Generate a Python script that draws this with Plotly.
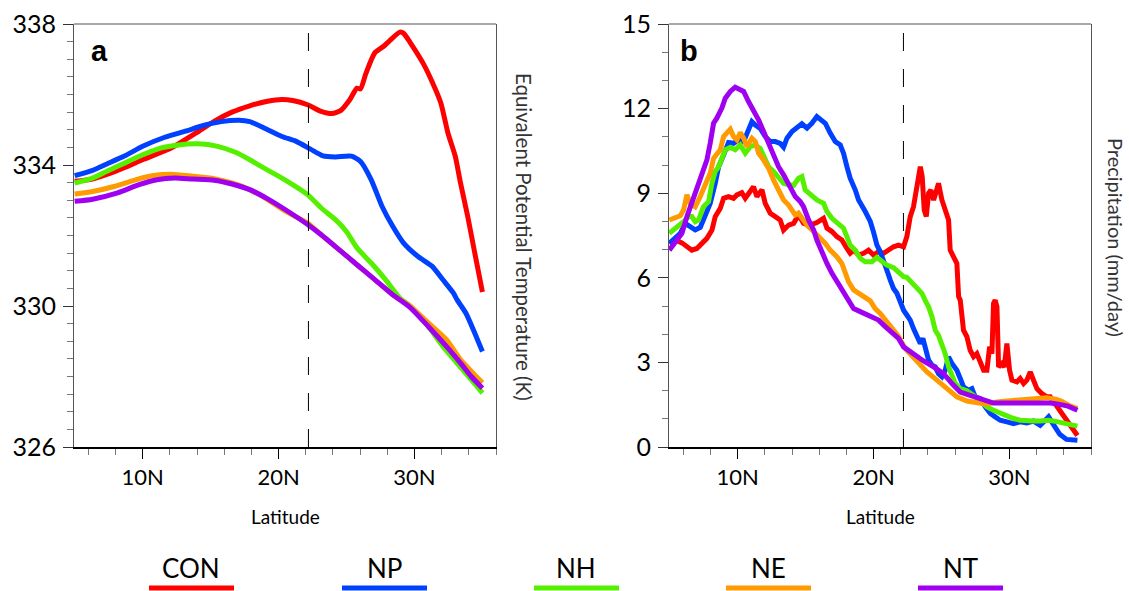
import plotly.graph_objects as go

W, H = 1129, 591

SERIES = ["CON", "NP", "NH", "NE", "NT"]
COLORS = ["#FF0000", "#0040FF", "#55F000", "#FF9A00", "#A000F0"]

# ---------------- Panel a: equivalent potential temperature (K) ----------------
CON_A_LAT = [5.0, 6.32, 7.37, 8.69, 10.0, 12.1, 13.94, 15.26, 16.57, 17.88, 19.2, 20.25, 21.04, 22.14,
             23.14, 23.93, 24.59, 25.24, 25.77, 26.03, 26.43, 27.08, 27.74, 28.13, 28.92, 29.19, 29.71,
             30.63, 31.29, 31.94, 32.47, 33.0, 33.39, 33.92, 34.44, 35.0]
CON_A_VAL = [333.54, 333.60, 333.73, 333.93, 334.15, 334.48, 334.91, 335.24, 335.50, 335.68, 335.81,
             335.86, 335.83, 335.71, 335.52, 335.46, 335.55, 335.85, 336.18, 336.16, 336.60, 337.18,
             337.37, 337.51, 337.77, 337.74, 337.46, 336.89, 336.37, 335.76, 334.90, 334.25, 333.49,
             332.54, 331.50, 330.40]
NP_A_LAT = [5.0, 6.32, 7.37, 8.69, 10.0, 11.58, 13.15, 14.47, 15.78, 17.1, 17.88, 18.94, 20.25, 21.3,
            22.35, 23.27, 24.19, 25.37, 26.03, 26.82, 27.61, 28.4, 29.19, 30.24, 31.29, 32.08, 32.86,
            33.13, 33.78, 34.44, 35.0]
NP_A_VAL = [333.70, 333.85, 334.03, 334.26, 334.53, 334.78, 334.96, 335.12, 335.23, 335.27, 335.23,
            335.05, 334.81, 334.67, 334.45, 334.26, 334.23, 334.25, 334.10, 333.58, 332.83, 332.26,
            331.79, 331.41, 331.13, 330.75, 330.37, 330.18, 329.80, 329.23, 328.71]
NH_A_LAT = [5.0, 6.32, 7.37, 8.69, 10.0, 11.31, 12.63, 14.07, 15.52, 16.83, 17.88, 18.94, 20.25, 21.3,
            22.14, 23.14, 24.19, 24.98, 25.77, 26.82, 27.87, 28.92, 29.71, 31.02, 32.08, 33.13, 34.18,
            35.0]
NH_A_VAL = [333.49, 333.63, 333.82, 334.06, 334.29, 334.48, 334.57, 334.60, 334.53, 334.36, 334.15,
            333.91, 333.63, 333.38, 333.16, 332.78, 332.45, 332.12, 331.65, 331.22, 330.75, 330.23,
            329.99, 329.42, 328.86, 328.38, 327.91, 327.53]
NE_A_LAT = [5.0, 6.32, 7.9, 9.47, 10.79, 12.1, 13.68, 15.26, 16.57, 17.88, 19.2, 20.51, 22.14, 23.14,
            24.45, 25.77, 27.08, 28.4, 29.71, 31.02, 32.34, 33.39, 34.18, 35.0]
NE_A_VAL = [333.18, 333.25, 333.39, 333.58, 333.70, 333.74, 333.68, 333.61, 333.49, 333.30, 333.02,
            332.69, 332.35, 332.02, 331.60, 331.17, 330.75, 330.32, 329.99, 329.52, 329.05, 328.48,
            328.15, 327.82]
NT_A_LAT = [5.0, 6.32, 8.16, 9.74, 11.05, 12.37, 13.68, 15.26, 16.57, 17.88, 19.2, 20.51, 22.14, 23.14,
            24.45, 25.77, 27.08, 28.4, 29.71, 31.02, 32.34, 33.39, 34.18, 35.0]
NT_A_VAL = [332.97, 333.03, 333.21, 333.44, 333.58, 333.63, 333.60, 333.57, 333.46, 333.30, 333.04,
            332.73, 332.31, 332.02, 331.60, 331.17, 330.75, 330.32, 329.95, 329.42, 328.86, 328.38,
            328.00, 327.67]

# ---------------- Panel b: precipitation (mm/day) ----------------
CON_B_LAT = [4.97, 5.41, 5.9, 6.27, 6.63, 7.0, 7.37, 7.74, 8.11, 8.35, 8.72, 8.97, 9.33, 9.7, 9.95, 10.31,
             10.56, 10.93, 11.17, 11.42, 11.79, 12.03, 12.4, 12.77, 13.13, 13.38, 13.75, 14.12, 14.48,
             14.85, 15.34, 15.83, 16.32, 16.57, 16.94, 17.3, 17.67, 18.04, 18.28, 18.53, 18.9, 19.27,
             19.63, 20.0, 20.37, 20.74, 21.1, 21.47, 21.84, 22.21, 22.45, 22.7, 22.94, 23.24, 23.44,
             23.58, 23.73, 23.88, 24.05, 24.22, 24.42, 24.61, 24.78, 25.03, 25.27, 25.52, 25.64, 25.89,
             26.13, 26.26, 26.38, 26.62, 26.87, 27.11, 27.36, 27.6, 27.85, 28.1, 28.34, 28.54, 28.71,
             28.83, 28.95, 29.08, 29.2, 29.44, 29.62, 29.81, 30.01, 30.18, 30.55, 30.79, 31.04, 31.28,
             31.53, 31.77, 32.02, 32.39, 32.75, 33.0, 33.4, 33.8, 34.3, 34.7, 35.0]
CON_B_VAL = [7.22, 7.34, 7.24, 7.1, 6.98, 7.04, 7.22, 7.4, 7.69, 8.17, 8.46, 8.82, 8.88, 8.82, 8.94, 9.02,
             8.82, 9.12, 9.23, 8.88, 9.12, 8.64, 8.29, 8.17, 8.05, 7.69, 7.87, 7.93, 8.23, 7.93, 7.87,
             7.96, 8.11, 7.76, 7.64, 7.46, 7.34, 7.04, 6.87, 6.98, 6.81, 6.87, 6.98, 6.81, 6.93, 6.87,
             6.98, 7.1, 7.16, 7.1, 7.46, 8.17, 8.52, 9.35, 9.94, 9.59, 8.4, 8.17, 9.0, 9.11, 8.76, 9.06,
             9.35, 8.76, 8.35, 8.05, 6.98, 6.75, 6.51, 5.33, 5.21, 4.14, 3.91, 3.43, 3.2, 3.31, 2.96,
             2.72, 2.72, 3.55, 3.31, 5.09, 5.21, 4.97, 2.84, 2.96, 2.84, 3.67, 2.72, 2.37, 2.31, 2.43,
             2.25, 2.37, 2.66, 2.31, 2.07, 1.89, 1.78, 1.78, 1.5, 1.18, 0.83, 0.6, 0.41]
NP_B_LAT = [4.97, 5.41, 5.78, 6.14, 6.51, 6.88, 7.25, 7.62, 7.98, 8.35, 8.6, 8.97, 9.33, 9.7, 10.07, 10.44,
            10.8, 11.05, 11.3, 11.66, 12.03, 12.4, 12.77, 13.13, 13.38, 13.63, 14.0, 14.36, 14.73, 15.1,
            15.46, 15.83, 16.2, 16.45, 16.81, 17.18, 17.55, 17.79, 18.04, 18.28, 18.65, 18.9, 19.39,
            19.76, 20.0, 20.25, 20.49, 20.74, 20.98, 21.23, 21.47, 21.72, 21.96, 22.21, 22.45, 22.7,
            22.94, 23.19, 23.44, 23.63, 23.8, 24.05, 24.3, 24.54, 24.78, 25.03, 25.27, 25.52, 25.77,
            26.13, 26.38, 26.62, 26.99, 27.24, 27.48, 27.85, 28.22, 28.59, 28.95, 29.32, 29.81, 30.3,
            30.79, 31.28, 31.77, 32.26, 32.51, 32.88, 33.3, 33.7, 34.2, 35.0]
NP_B_VAL = [7.22, 7.4, 7.58, 7.93, 7.81, 7.7, 7.79, 8.17, 8.64, 9.35, 9.94, 10.36, 10.8, 10.77, 10.89,
            10.83, 11.25, 11.54, 11.42, 11.3, 11.01, 10.83, 10.83, 10.77, 10.63, 10.95, 11.19, 11.31,
            11.46, 11.31, 11.48, 11.72, 11.58, 11.48, 11.13, 10.83, 10.71, 10.42, 9.94, 9.53, 9.12,
            8.76, 8.35, 8.0, 7.62, 7.16, 6.93, 6.63, 6.27, 5.92, 5.62, 5.45, 5.09, 4.85, 4.68, 4.5, 4.2,
            3.91, 3.67, 3.85, 3.55, 3.08, 2.9, 2.84, 2.6, 2.49, 2.72, 3.2, 2.96, 2.72, 2.43, 2.13, 2.01,
            2.07, 1.78, 1.72, 1.42, 1.19, 1.07, 0.95, 0.89, 0.83, 0.89, 0.85, 0.92, 0.77, 0.89, 1.07,
            0.75, 0.45, 0.27, 0.24]
NH_B_LAT = [4.97, 5.29, 5.65, 6.02, 6.39, 6.63, 6.88, 7.12, 7.49, 7.86, 8.11, 8.35, 8.6, 8.84, 9.09, 9.46,
            9.82, 10.19, 10.56, 10.93, 11.3, 11.66, 11.91, 12.28, 12.64, 13.01, 13.38, 13.75, 14.12,
            14.48, 14.73, 14.97, 15.34, 15.83, 16.32, 16.57, 16.94, 17.43, 17.79, 18.04, 18.28, 18.65,
            19.02, 19.39, 19.88, 20.25, 20.61, 20.98, 21.47, 21.96, 22.21, 22.45, 22.82, 23.19, 23.56,
            23.8, 24.05, 24.3, 24.54, 24.78, 25.03, 25.27, 25.52, 25.77, 26.01, 26.38, 26.87, 27.36,
            27.85, 28.34, 28.83, 29.32, 29.81, 30.3, 30.79, 31.28, 31.77, 32.26, 32.88, 33.5, 34.2, 35.0]
NH_B_VAL = [7.58, 7.69, 7.81, 7.99, 8.17, 8.17, 7.99, 8.05, 8.52, 8.7, 9.35, 9.77, 9.94, 10.24, 10.54,
            10.63, 10.54, 10.71, 10.42, 10.65, 10.71, 10.59, 10.28, 9.94, 9.77, 9.53, 9.35, 9.3, 9.28,
            9.53, 9.59, 9.12, 8.94, 8.76, 8.64, 8.35, 8.11, 7.93, 7.76, 7.46, 7.16, 6.98, 6.69, 6.57,
            6.57, 6.72, 6.57, 6.45, 6.36, 6.16, 6.04, 6.02, 5.85, 5.68, 5.45, 5.2, 4.97, 4.62, 4.14,
            3.96, 3.67, 3.31, 2.84, 2.49, 2.25, 2.07, 1.99, 1.83, 1.6, 1.42, 1.3, 1.19, 1.09, 1.01, 0.95,
            0.92, 0.92, 0.92, 0.95, 0.9, 0.82, 0.74]
NE_B_LAT = [4.97, 5.41, 5.78, 6.02, 6.27, 6.51, 6.88, 7.25, 7.62, 7.98, 8.23, 8.47, 8.72, 8.97, 9.21, 9.46,
            9.7, 9.95, 10.19, 10.44, 10.68, 11.05, 11.3, 11.54, 11.91, 12.28, 12.64, 13.01, 13.38, 13.75,
            14.24, 14.48, 14.73, 15.1, 15.59, 16.08, 16.45, 16.81, 17.3, 17.67, 17.92, 18.16, 18.53,
            18.9, 19.27, 19.76, 20.12, 20.49, 20.98, 21.47, 21.84, 22.33, 22.7, 23.31, 23.93, 24.66,
            25.4, 26.13, 26.87, 27.6, 28.34, 29.08, 29.81, 30.55, 31.28, 32.02, 32.75, 33.4, 33.8, 34.5,
            35.0]
NE_B_VAL = [8.05, 8.11, 8.2, 8.4, 8.94, 8.64, 8.52, 8.88, 9.35, 9.71, 10.24, 10.36, 10.54, 11.01, 11.13,
            11.27, 11.01, 10.89, 11.15, 10.95, 10.65, 10.95, 10.83, 10.42, 10.18, 9.88, 9.47, 9.06, 8.76,
            8.58, 8.23, 8.29, 8.11, 7.87, 7.64, 7.4, 7.22, 6.98, 6.75, 6.51, 6.16, 5.86, 5.57, 5.45,
            5.33, 5.18, 4.91, 4.74, 4.44, 4.15, 3.92, 3.49, 3.31, 2.98, 2.66, 2.37, 2.07, 1.78, 1.63,
            1.56, 1.52, 1.6, 1.63, 1.68, 1.72, 1.75, 1.75, 1.7, 1.63, 1.45, 1.36]
NT_B_LAT = [4.97, 5.41, 5.9, 6.27, 6.63, 7.0, 7.37, 7.74, 7.98, 8.23, 8.47, 8.84, 9.09, 9.46, 9.82, 10.19,
            10.44, 10.8, 11.17, 11.54, 11.91, 12.28, 12.64, 13.01, 13.38, 13.75, 14.24, 14.61, 14.85,
            15.22, 15.59, 15.83, 16.2, 16.57, 16.94, 17.3, 17.67, 18.16, 18.53, 19.02, 19.76, 20.37,
            20.86, 21.47, 21.84, 22.21, 22.7, 23.19, 23.68, 24.42, 25.15, 25.77, 26.38, 27.11, 27.73,
            28.34, 28.83, 29.57, 30.55, 31.53, 32.39, 33.0, 33.6, 34.3, 35.0]
NT_B_VAL = [6.98, 7.28, 7.58, 8.17, 8.64, 9.12, 9.59, 10.18, 10.77, 11.48, 11.66, 12.02, 12.37, 12.61,
            12.76, 12.69, 12.61, 12.25, 11.96, 11.6, 11.19, 10.77, 10.36, 9.94, 9.65, 9.35, 8.88, 8.7,
            8.52, 8.05, 7.7, 7.34, 6.87, 6.51, 6.16, 5.86, 5.57, 5.21, 4.91, 4.8, 4.62, 4.5, 4.27, 4.03,
            3.85, 3.55, 3.37, 3.2, 3.05, 2.84, 2.6, 2.25, 1.95, 1.83, 1.72, 1.63, 1.56, 1.56, 1.56, 1.57,
            1.57, 1.56, 1.52, 1.45, 1.3]

PANEL_A = [(CON_A_LAT, CON_A_VAL), (NP_A_LAT, NP_A_VAL), (NH_A_LAT, NH_A_VAL),
           (NE_A_LAT, NE_A_VAL), (NT_A_LAT, NT_A_VAL)]
PANEL_B = [(CON_B_LAT, CON_B_VAL), (NP_B_LAT, NP_B_VAL), (NH_B_LAT, NH_B_VAL),
           (NE_B_LAT, NE_B_VAL), (NT_B_LAT, NT_B_VAL)]

X_TICKS = [10, 20, 30]
X_TICKTEXT = ["10N", "20N", "30N"]
YA_TICKS = [326, 330, 334, 338]
YB_TICKS = [0, 3, 6, 9, 12, 15]
BOUNDARY_LAT = 22.2

FONT = "Lato"
fig = go.Figure()

for (lat, val), name, col in zip(PANEL_A, SERIES, COLORS):
    fig.add_trace(go.Scatter(x=lat, y=val, mode="lines", name=name, showlegend=False,
                             line=dict(color=col, width=5, shape="spline", smoothing=0.6),
                             xaxis="x", yaxis="y"))
for (lat, val), name, col in zip(PANEL_B, SERIES, COLORS):
    fig.add_trace(go.Scatter(x=lat, y=val, mode="lines", name=name, showlegend=False,
                             line=dict(color=col, width=5),
                             xaxis="x2", yaxis="y2"))

ydom = [1 - 447 / H, 1 - 24 / H]
xdom_a = [74 / W, 496 / W]
xdom_b = [669 / W, 1091 / W]


def xaxis(dom, anchor):
    return dict(domain=dom, anchor=anchor, range=[4.95, 36.0], tickmode="array", tickvals=X_TICKS,
                ticktext=X_TICKTEXT, ticks="outside", ticklen=10, tickwidth=1.2, tickcolor="#000",
                minor=dict(dtick=2, tick0=0, ticks="outside", ticklen=6, tickcolor="#777", tickwidth=1),
                showline=True, linecolor="#000", linewidth=1.6, showgrid=False, zeroline=False,
                automargin=False,
                tickfont=dict(family=FONT, size=22, color="#000"), ticklabelstandoff=0)


def yaxis(dom, anchor, rng, ticks, minor_dt):
    return dict(domain=dom, anchor=anchor, range=rng, tickmode="array", tickvals=ticks,
                ticks="outside", ticklen=10, tickwidth=1.2, tickcolor="#333",
                minor=dict(dtick=minor_dt, tick0=0, ticks="outside", ticklen=6, tickcolor="#777",
                           tickwidth=1),
                showline=True, linecolor="#555", linewidth=1.2, mirror=True, showgrid=False,
                zeroline=False, automargin=False,
                tickfont=dict(family=FONT, size=25, color="#000"),
                ticklabelstandoff=2)


shapes = []
for xr, yr in (("x", "y"), ("x2", "y2")):
    shapes.append(dict(type="line", xref=xr + " domain", yref=yr + " domain", x0=0, x1=1, y0=1, y1=1,
                       line=dict(color="#555", width=1.2)))
    shapes.append(dict(type="line", xref=xr, yref=yr + " domain", x0=BOUNDARY_LAT, x1=BOUNDARY_LAT,
                       y0=0, y1=1, line=dict(color="#000", width=1, dash="18px,18px")))


def ann(text, px, py, size, color="#000", family=FONT, angle=0, xanchor="center"):
    return dict(text=text, x=px / W, y=1 - py / H, xref="paper", yref="paper", xanchor=xanchor,
                yanchor="middle", showarrow=False, textangle=angle,
                font=dict(family=family, size=size, color=color))


annotations = [
    ann("<b>a</b>", 89, 51, 29, family="Liberation Sans", xanchor="left"),
    ann("<b>b</b>", 678, 51, 29, family="Liberation Sans", xanchor="left"),
    ann("Latitude", 285, 516, 19),
    ann("Latitude", 880, 516, 19),
    ann("Equivalent Potential Temperature (K)", 524, 237, 20.5, color="#333", angle=90),
    ann("Precipitation (mm/day)", 1116, 237, 20, color="#333", angle=90),
]

# legend drawn as label above a coloured bar
LEG_CX = [191, 384, 576, 768, 960]
for cx, name, col in zip(LEG_CX, SERIES, COLORS):
    annotations.append(ann(name, cx, 568, 26))
    shapes.append(dict(type="line", xref="paper", yref="paper", x0=(cx - 42) / W, x1=(cx + 43) / W,
                       y0=1 - 588 / H, y1=1 - 588 / H, line=dict(color=col, width=5)))

fig.update_layout(
    width=W, height=H, margin=dict(l=0, r=0, t=0, b=0, autoexpand=False),
    paper_bgcolor="white", plot_bgcolor="white", showlegend=False,
    xaxis=xaxis(xdom_a, "y"), yaxis=yaxis(ydom, "x", [326, 338], YA_TICKS, 0.5),
    xaxis2=xaxis(xdom_b, "y2"), yaxis2=yaxis(ydom, "x2", [0, 15], YB_TICKS, 1),
    shapes=shapes, annotations=annotations,
)

fig.write_html("out.html")
